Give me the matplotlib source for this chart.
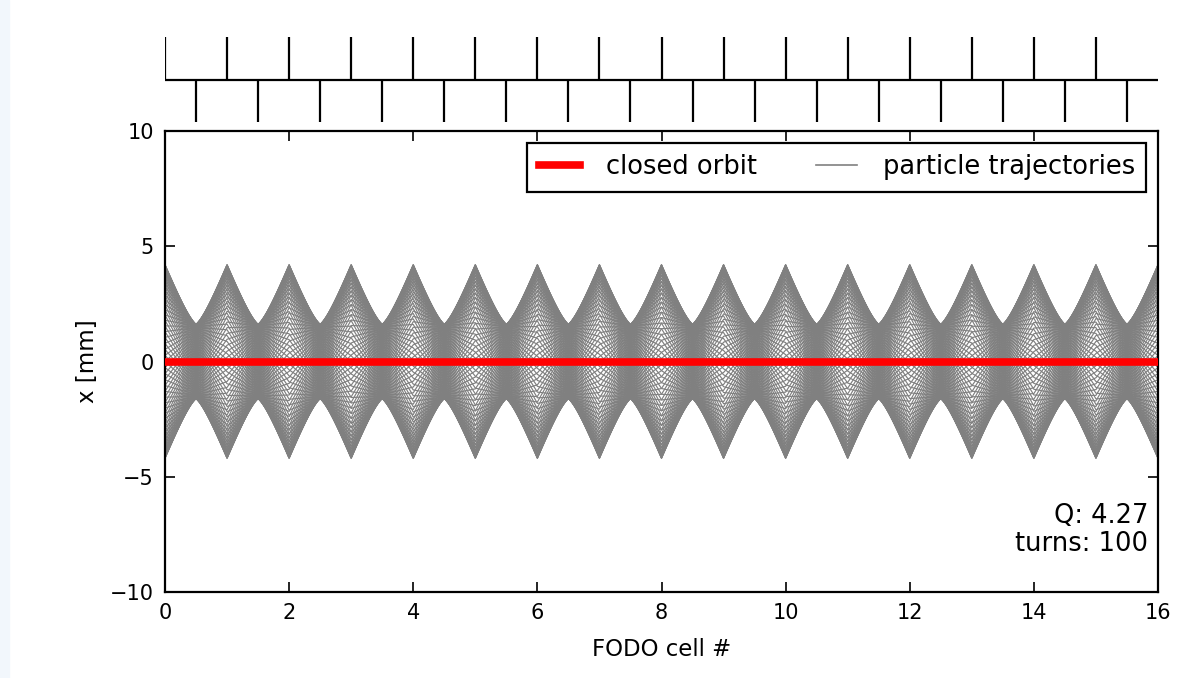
import numpy as np
import matplotlib
matplotlib.use('Agg')
import matplotlib.pyplot as plt
from matplotlib.lines import Line2D

# --- lattice / tracking parameters
Q = 4.27            # tune shown in the plot
turns = 100         # number of turns shown
n_cells = 16        # FODO cells on the x axis
x_peak = 4.2        # max. envelope at the focusing quads [mm]
closed_orbit = [0.0, 0.0]   # closed orbit at start / end [mm]

focusing_pos = np.arange(0, 16, 1.0)     # quads drawn upwards
defocusing_pos = np.arange(0.5, 16, 1.0) # quads drawn downwards

y_ticks = [-10, -5, 0, 5, 10]
x_ticks = [0, 2, 4, 6, 8, 10, 12, 14, 16]

# --- thin lens FODO tracking
mu = 2*np.pi*Q/n_cells
f = 1.0/(4*np.sin(mu/2))
drift = np.array([[1, 0.5], [0, 1]])
kickF = np.array([[1, 0], [-1/(2*f), 1]])   # half F quad
kickD = np.array([[1, 0], [1/f, 1]])

s = np.arange(0, n_cells + 0.25, 0.5)
X = np.array([x_peak, 0.0])
traj = []
for t in range(turns):
    xs = [X[0]]
    for c in range(n_cells):
        X = drift @ kickF @ X
        xs.append(X[0])
        X = drift @ kickD @ X
        xs.append(X[0])
        X = kickF @ X
    traj.append(xs)
traj = np.array(traj)

# ============================   Plot   ======================================
plt.rc('font', size=15)
plt.rc('xtick', direction='in', top=True)
plt.rc('ytick', direction='in', right=True)
plt.rc('xtick.major', size=7, width=1.2, pad=8)
plt.rc('ytick.major', size=7, width=1.2, pad=8)

fig = plt.figure(figsize=(11.9, 6.78), dpi=100)
fig.patches.append(plt.Rectangle((0, 0), 9/1190, 1, transform=fig.transFigure,
                                 color='#f2f7fc', zorder=-1))

ax = fig.add_axes([165/1190, 1 - 592/678, 993/1190, 461/678])
for xs in traj:
    ax.plot(s, xs, color='gray', lw=0.85)
ax.plot([0, n_cells], closed_orbit, color='red', lw=5.5, zorder=5)
ax.set_xlim(0, 16)
ax.set_ylim(-10, 10)
ax.set_xticks(x_ticks)
ax.set_yticks(y_ticks)
ax.set_yticklabels(['\u221210', '\u22125', '0', '5', '10'])
ax.set_xlabel('FODO cell #', fontsize=16.5, labelpad=11)
ax.set_ylabel('x [mm]', fontsize=16.5, labelpad=8)
for sp in ax.spines.values():
    sp.set_linewidth(1.6)

handles = [Line2D([], [], color='red', lw=5.5), Line2D([], [], color='gray', lw=1.2)]
leg = ax.legend(handles, ['closed orbit', 'particle trajectories'], loc='upper right',
                ncol=2, fontsize=18.5, fancybox=False, framealpha=1, edgecolor='black',
                handlelength=1.6, handletextpad=1.0, columnspacing=2.3,
                borderaxespad=0.45, borderpad=0.45)
leg.get_frame().set_linewidth(1.6)

ax.text(0.99, 0.075, 'Q: %.2f\nturns: %d' % (Q, turns), transform=ax.transAxes,
        ha='right', va='bottom', multialignment='right', fontsize=18.5, linespacing=1.12)

# lattice sketch on top
axl = fig.add_axes([165/1190, 1 - 122/678, 993/1190, 85/678])
axl.set_xlim(0, 16)
axl.set_ylim(-1, 1)
axl.axis('off')
axl.plot([0, 16], [0, 0], color='black', lw=1.6)
axl.vlines(focusing_pos, 0, 1, color='black', lw=1.6)
axl.vlines(defocusing_pos, -1, 0, color='black', lw=1.6)

fig.savefig('out.png', dpi=100)
